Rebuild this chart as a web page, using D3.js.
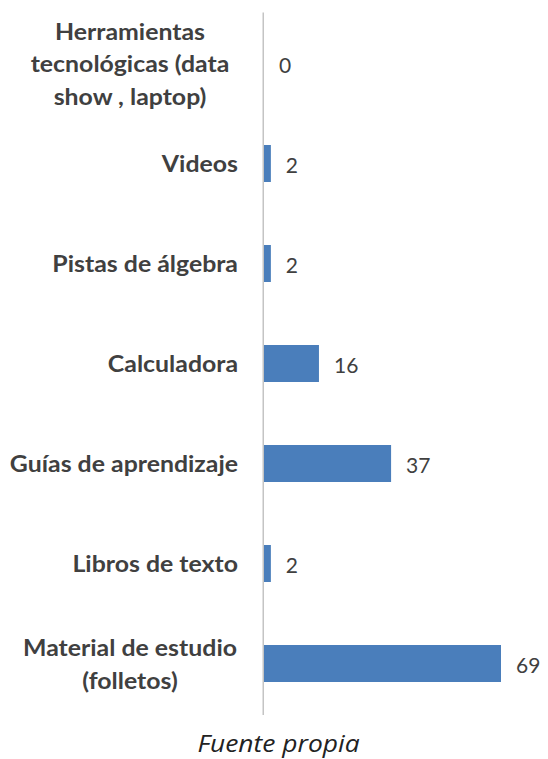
<!DOCTYPE html>
<html>
<head>
<meta charset="utf-8">
<script src="https://cdn.jsdelivr.net/npm/d3@7"></script>
<style>
  html, body { margin: 0; padding: 0; background: #fff; }
  svg { display: block; }
</style>
</head>
<body>
<svg id="chart" width="548" height="759"></svg>
<script>
// Recursos utilizados (de arriba hacia abajo)
const categories = [
  ["Herramientas", "tecnológicas (data", "show , laptop)"],
  ["Videos"],
  ["Pistas de álgebra"],
  ["Calculadora"],
  ["Guías de aprendizaje"],
  ["Libros de texto"],
  ["Material de estudio", "(folletos)"]
];
const values = [0, 2, 2, 16, 37, 2, 69];
const sourceNote = "Fuente propia";

const svg = d3.select("#chart");
const axisX = 264;
const plotTop = 13.5, plotBottom = 713.5;
const labelRight = 238;     // borde derecho de las etiquetas de una línea
const wrapCenter = 130;     // centro del cuadro de las etiquetas de varias líneas
const stretch = 1.13;       // ensanchado horizontal del texto

const x = d3.scaleLinear().domain([0, 69]).range([axisX, 501]);
const y = d3.scaleBand()
  .domain(d3.range(categories.length))
  .range([plotTop, plotBottom])
  .paddingInner(0.63)
  .paddingOuter(0.315);

// Barras
svg.append("g").selectAll("rect")
  .data(values)
  .join("rect")
  .attr("x", x(0))
  .attr("y", (d, i) => y(i))
  .attr("width", d => x(d) - x(0))
  .attr("height", y.bandwidth())
  .attr("fill", "#4a7ebb");

// Eje vertical
svg.append("line")
  .attr("x1", axisX - 0.75).attr("x2", axisX - 0.75)
  .attr("y1", plotTop - 1).attr("y2", plotBottom + 1.5)
  .attr("stroke", "#c4c4c4").attr("stroke-width", 1.5);

// Etiquetas de categoría
const lineH = 32.5;
const labels = svg.append("g")
  .attr("font-family", "Lato, 'Open Sans', sans-serif")
  .attr("font-weight", "bold")
  .attr("font-size", 22)
  .attr("fill", "#404040");

categories.forEach((lines, i) => {
  const cy = y(i) + y.bandwidth() / 2;
  const multi = lines.length > 1;
  const g = labels.append("g")
    .attr("transform", `translate(${multi ? wrapCenter : labelRight},${cy - (lines.length - 1) * lineH / 2}) scale(${stretch},1)`);
  const t = g.append("text")
    .attr("text-anchor", multi ? "middle" : "end");
  lines.forEach((ln, k) => {
    t.append("tspan")
      .attr("x", 0)
      .attr("dy", k === 0 ? "0.4em" : lineH)
      .text(ln);
  });
});

// Valores
svg.append("g")
  .attr("font-family", "Lato, 'Open Sans', sans-serif")
  .attr("font-size", 21)
  .attr("fill", "#404040")
  .selectAll("text")
  .data(values)
  .join("text")
  .attr("x", d => x(d) + 15)
  .attr("y", (d, i) => y(i) + y.bandwidth() / 2)
  .attr("dy", "0.45em")
  .text(d => d);

// Fuente
svg.append("g")
  .attr("transform", "translate(278.5,752) scale(1.1,1)")
  .append("text")
  .attr("text-anchor", "middle")
  .attr("font-family", "'Open Sans', 'Noto Sans', sans-serif")
  .attr("font-style", "italic")
  .attr("font-size", 24)
  .attr("fill", "#222")
  .text(sourceNote);
</script>
</body>
</html>
